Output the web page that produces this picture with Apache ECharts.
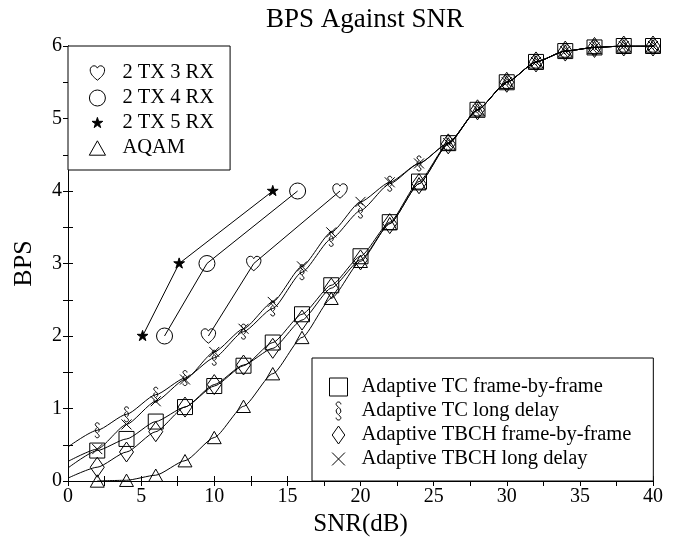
<!DOCTYPE html>
<html>
<head>
<meta charset="utf-8">
<title>BPS Against SNR</title>
<script src="https://cdn.jsdelivr.net/npm/echarts/dist/echarts.min.js"></script>
<style>
  html, body { margin: 0; padding: 0; background: #fff; }
  #chart { width: 679px; height: 542px; }
</style>
</head>
<body>
<div id="chart"></div>
<script>
// SNR points (dB)
var snrAdaptive = [0, 2, 4, 6, 8, 10, 12, 14, 16, 18, 20, 22, 24, 26, 28, 30, 32, 34, 36, 38, 40];
var snrAqam = [2, 4, 6, 8, 10, 12, 14, 16, 18, 20, 22, 24, 26, 28, 30, 32, 34, 36, 38, 40];

// adaptive schemes, the value at 0 dB is only where the fitted curve starts
var tcFrame = [0.18, 0.42, 0.58, 0.82, 1.02, 1.31, 1.59, 1.91, 2.30, 2.70, 3.10, 3.57, 4.13, 4.66, 5.12, 5.50, 5.78, 5.93, 5.98, 6.0, 6.0];
var tcLong = [0.47, 0.70, 0.92, 1.19, 1.42, 1.70, 2.06, 2.38, 2.88, 3.34, 3.73, 4.10, 4.38, 4.66, 5.12, 5.50, 5.78, 5.93, 5.98, 6.0, 6.0];
var tbchFrame = [0.04, 0.19, 0.40, 0.68, 1.02, 1.33, 1.60, 1.83, 2.22, 2.66, 3.05, 3.55, 4.10, 4.65, 5.12, 5.50, 5.78, 5.93, 5.98, 6.0, 6.0];
var tbchLong = [0.27, 0.44, 0.78, 1.10, 1.40, 1.78, 2.10, 2.47, 2.96, 3.43, 3.85, 4.12, 4.38, 4.66, 5.12, 5.50, 5.78, 5.93, 5.98, 6.0, 6.0];
var aqam = [0.0, 0.01, 0.08, 0.28, 0.60, 1.03, 1.48, 1.98, 2.52, 3.03, 3.55, 4.10, 4.65, 5.12, 5.50, 5.78, 5.93, 5.98, 6.0, 6.0];

// MIMO reference lines
var mimoBps = [2, 3, 4];
var snr2tx3rx = [9.6, 12.7, 18.6];
var snr2tx4rx = [6.6, 9.5, 15.7];
var snr2tx5rx = [5.1, 7.6, 14.0];

var FONT = 'Liberation Serif';

// marker shapes (some padded with empty points so they keep a smaller size)
var ICON = {
  heart: 'path://M0,0 L0,0 M20,20 L20,20 M10,18 C5,14 2,11 2,6.5 C2,4 4,2 6.3,2 C8,2 9.3,3 10,4.6 C10.7,3 12,2 13.7,2 C16,2 18,4 18,6.5 C18,11 15,14 10,18 Z',
  circle: 'path://M-1,-1 L-1,-1 M17,17 L17,17 M0,8 A8,8 0 1,0 16,8 A8,8 0 1,0 0,8 Z',
  star: 'path://M-30,-30 L-30,-30 M130,130 L130,130 M50,0 L61,35 L98,35 L68,57 L79,91 L50,70 L21,91 L32,57 L2,35 L39,35 Z',
  triangle: 'path://M0,0 L0,0 M22,20 L22,20 M11,2 L20,18 L2,18 Z',
  square: 'path://M0,0 L16,0 L16,16 L0,16 Z',
  section: 'path://M7.5,3 C7.5,1 6,0.5 5,0.5 C3.5,0.5 2.5,1.5 2.5,3 C2.5,5 7.5,6.5 7.5,10 C7.5,11.5 6.5,12.5 5.5,13 M4.5,7 C3.5,7.5 2.5,8.5 2.5,10 C2.5,13.5 7.5,15 7.5,17 C7.5,18.5 6.5,19.5 5,19.5 C4,19.5 2.5,19 2.5,17',
  diamond: 'path://M7,0 L14,10 L7,20 L0,10 Z',
  cross: 'path://M0,0 L0,0 M14,14 L14,14 M2,2 L12,12 M12,2 L2,12'
};

function pairs(xs, ys) {
  return xs.map(function (x, i) { return [x, ys[i]]; });
}

// first point at 0 dB has no marker
function fitted(xs, ys) {
  return xs.map(function (x, i) {
    if (x === 0) return { value: [x, ys[i]], symbol: 'none' };
    return [x, ys[i]];
  });
}

function makeSeries(name, data, icon, size, filled, smooth) {
  return {
    name: name,
    type: 'line',
    data: data,
    symbol: icon,
    symbolSize: size,
    symbolKeepAspect: true,
    showAllSymbol: true,
    smooth: smooth ? 0.2 : false,
    smoothMonotone: 'x',
    lineStyle: { color: '#000', width: 1 },
    itemStyle: { color: filled ? '#000' : 'transparent', borderColor: '#000', borderWidth: 1 },
    emphasis: { disabled: true },
    animation: false
  };
}

var chart = echarts.init(document.getElementById('chart'));

var tickFive = function (v) { return v % 5 === 0 ? String(v) : ''; };
var tickOne = function (v) { return v % 1 === 0 ? String(v) : ''; };

var axisCommon = {
  axisLine: { show: true, lineStyle: { color: '#000', width: 1 } },
  axisTick: { show: true, inside: true, length: 5, lineStyle: { color: '#000', width: 1 } },
  splitLine: { show: false }
};

chart.setOption({
  backgroundColor: '#fff',
  title: {
    text: 'BPS Against SNR',
    left: 360,
    top: 1,
    textAlign: 'center',
    textStyle: { fontFamily: FONT, fontSize: 27, fontWeight: 'normal', color: '#000' }
  },
  grid: { left: 68, right: 26, top: 46, bottom: 61, containLabel: false },
  xAxis: [
    Object.assign({
      type: 'value', min: 0, max: 40, interval: 2.5, position: 'bottom',
      name: 'SNR(dB)', nameLocation: 'middle', nameGap: 28,
      nameTextStyle: { fontFamily: FONT, fontSize: 25, color: '#000' },
      axisLabel: { formatter: tickFive, fontFamily: FONT, fontSize: 20, color: '#000', margin: 6 }
    }, axisCommon),
    Object.assign({
      type: 'value', min: 0, max: 40, interval: 2.5, position: 'top',
      axisLabel: { show: false }
    }, axisCommon)
  ],
  yAxis: [
    Object.assign({
      type: 'value', min: 0, max: 6, interval: 0.5, position: 'left',
      name: 'BPS', nameLocation: 'middle', nameGap: 31,
      nameTextStyle: { fontFamily: FONT, fontSize: 26, color: '#000' },
      axisLabel: { formatter: tickOne, fontFamily: FONT, fontSize: 20, color: '#000', margin: 6 }
    }, axisCommon),
    Object.assign({
      type: 'value', min: 0, max: 6, interval: 0.5, position: 'right',
      axisLabel: { show: false }
    }, axisCommon)
  ],
  legend: [
    {
      orient: 'vertical',
      left: 68, top: 46,
      padding: [15, 16, 10, 19],
      itemWidth: 40, itemHeight: 18, itemGap: 1,
      borderColor: '#000', borderWidth: 1, borderRadius: 0,
      backgroundColor: '#fff',
      selectedMode: false,
      itemStyle: { borderColor: '#000', borderWidth: 1 },
      textStyle: { fontFamily: FONT, fontSize: 20.5, color: '#000', lineHeight: 24 },
      data: [
        { name: '2 TX 3 RX', icon: ICON.heart },
        { name: '2 TX 4 RX', icon: ICON.circle },
        { name: '2 TX 5 RX', icon: ICON.star },
        { name: 'AQAM', icon: ICON.triangle }
      ]
    },
    {
      orient: 'vertical',
      left: 312, top: 358,
      padding: [17, 22, 10, 17],
      itemWidth: 36, itemHeight: 18, itemGap: 0,
      borderColor: '#000', borderWidth: 1, borderRadius: 0,
      backgroundColor: '#fff',
      selectedMode: false,
      itemStyle: { borderColor: '#000', borderWidth: 1 },
      textStyle: { fontFamily: FONT, fontSize: 20.5, color: '#000', lineHeight: 24 },
      data: [
        { name: 'Adaptive TC frame-by-frame', icon: ICON.square },
        { name: 'Adaptive TC long delay', icon: ICON.section },
        { name: 'Adaptive TBCH frame-by-frame', icon: ICON.diamond },
        { name: 'Adaptive TBCH long delay', icon: ICON.cross }
      ]
    }
  ],
  series: [
    makeSeries('AQAM', pairs(snrAqam, aqam), ICON.triangle, 17, false, true),
    makeSeries('Adaptive TC frame-by-frame', fitted(snrAdaptive, tcFrame), ICON.square, 15, false, true),
    makeSeries('Adaptive TC long delay', fitted(snrAdaptive, tcLong), ICON.section, 15, false, true),
    makeSeries('Adaptive TBCH frame-by-frame', fitted(snrAdaptive, tbchFrame), ICON.diamond, 20, false, true),
    makeSeries('Adaptive TBCH long delay', fitted(snrAdaptive, tbchLong), ICON.cross, 14, false, true),
    makeSeries('2 TX 3 RX', pairs(snr2tx3rx, mimoBps), ICON.heart, 18, false, false),
    makeSeries('2 TX 4 RX', pairs(snr2tx4rx, mimoBps), ICON.circle, 18, false, false),
    makeSeries('2 TX 5 RX', pairs(snr2tx5rx, mimoBps), ICON.star, 18, true, false)
  ]
});
</script>
</body>
</html>
